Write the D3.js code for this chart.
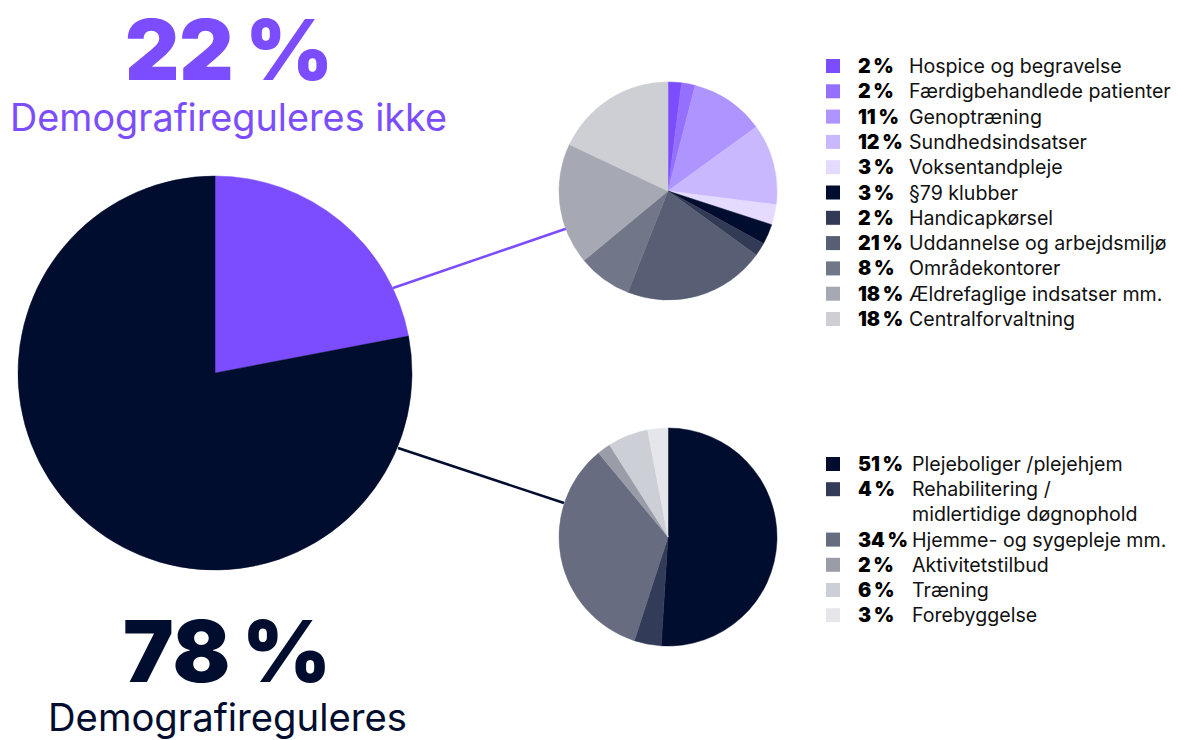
<!DOCTYPE html>
<html><head><meta charset="utf-8">
<script src="https://cdn.jsdelivr.net/npm/d3@7"></script>
<style>
body{margin:0;background:#fff;}
svg{display:block;font-family:Inter,"Open Sans",sans-serif;}
</style></head>
<body>
<svg id="c" width="1181" height="740"></svg>
<script>
// ---- data ----
const mainLabels = ["Demografireguleres ikke", "Demografireguleres"];
const mainValues = [22, 78];
const mainColors = ["#7B4DFF", "#000D2E"];

const topLabels = ["Hospice og begravelse","Færdigbehandlede patienter","Genoptræning","Sundhedsindsatser","Voksentandpleje","§79 klubber","Handicapkørsel","Uddannelse og arbejdsmiljø","Områdekontorer","Ældrefaglige indsatser mm.","Centralforvaltning"];
const topValues = [2,2,11,12,3,3,2,21,8,18,18];
const topColors = ["#7B4DFF","#9570FF","#AE94FF","#CAB8FF","#E4DBFF","#000D2E","#323A55","#585F75","#727689","#A6A9B3","#CDCFD5"];

const botLabels = [["Plejeboliger /plejehjem"],["Rehabilitering /","midlertidige døgnophold"],["Hjemme- og sygepleje mm."],["Aktivitetstilbud"],["Træning"],["Forebyggelse"]];
const botValues = [51,4,34,2,6,3];
const botColors = ["#000D2E","#323B57","#676C80","#9A9DA8","#CDCFD6","#E5E6EA"];

const svg = d3.select("#c");
const pie = d3.pie().sort(null).value(d => d);

function drawPie(values, colors, cx, cy, r){
  const arc = d3.arc().innerRadius(0).outerRadius(r);
  svg.append("g").attr("transform",`translate(${cx},${cy})`)
    .selectAll("path").data(pie(values)).join("path")
    .attr("d",arc).attr("fill",(d,i)=>colors[i])
    .attr("stroke",(d,i)=>colors[i]).attr("stroke-width",0.5);
}
// scale a text's font-size so that it spans a given width
function fit(sel, w){
  const fs = +sel.attr("font-size");
  const len = sel.node().getComputedTextLength();
  sel.attr("font-size", fs*w/len);
  return sel;
}

svg.append("line").attr("x1",393).attr("y1",288).attr("x2",568).attr("y2",228)
  .attr("stroke",mainColors[0]).attr("stroke-width",2.5);
svg.append("line").attr("x1",398).attr("y1",448).attr("x2",564).attr("y2",503)
  .attr("stroke",mainColors[1]).attr("stroke-width",2.5);

drawPie(mainValues, mainColors, 215, 373, 197);
drawPie(topValues, topColors, 668, 191, 109);
drawPie(botValues, botColors, 668, 537, 109);

const big1 = svg.append("text").attr("x",229).attr("y",80).attr("text-anchor","middle")
  .attr("font-size",88).attr("font-weight",900).attr("fill",mainColors[0])
  .text(mainValues[0]+"\u2009%");
fit(big1, 208);
const sub1 = svg.append("text").attr("x",228.5).attr("y",131).attr("text-anchor","middle")
  .attr("font-size",36).attr("font-weight",400).attr("fill",mainColors[0])
  .text(mainLabels[0]);
fit(sub1, 437);
const big2 = svg.append("text").attr("x",227).attr("y",682).attr("text-anchor","middle")
  .attr("font-size",88).attr("font-weight",900).attr("fill",mainColors[1])
  .text(mainValues[1]+"\u2009%");
fit(big2, 208);
const sub2 = svg.append("text").attr("x",227.5).attr("y",731).attr("text-anchor","middle")
  .attr("font-size",36).attr("font-weight",400).attr("fill",mainColors[1])
  .text(mainLabels[1]);
fit(sub2, 359);

// legend font size fitted from one reference label width
const probe = svg.append("text").attr("font-size",17).text(topLabels[1]);
const lfs = 17*262/probe.node().getComputedTextLength();
probe.remove();

function legend(labels, values, colors, y0, labelX, rowH){
  const g = svg.append("g");
  let y = y0;
  labels.forEach((lab,i)=>{
    const lines = Array.isArray(lab)?lab:[lab];
    g.append("rect").attr("x",826).attr("y",y-7).attr("width",14).attr("height",14).attr("fill",colors[i]);
    g.append("text").attr("x",858).attr("y",y).attr("dy","0.36em")
      .attr("font-size",lfs).attr("font-weight",900).attr("fill","#000")
      .text(values[i]+"\u2009%");
    lines.forEach((ln,j)=>{
      g.append("text").attr("x",labelX).attr("y",y+j*rowH).attr("dy","0.36em")
        .attr("font-size",lfs).attr("fill","#111").text(ln);
    });
    y += rowH*lines.length;
  });
}
legend(topLabels, topValues, topColors, 66, 909, 25.3);
legend(botLabels, botValues, botColors, 464, 912, 25.2);
</script>
</body></html>
